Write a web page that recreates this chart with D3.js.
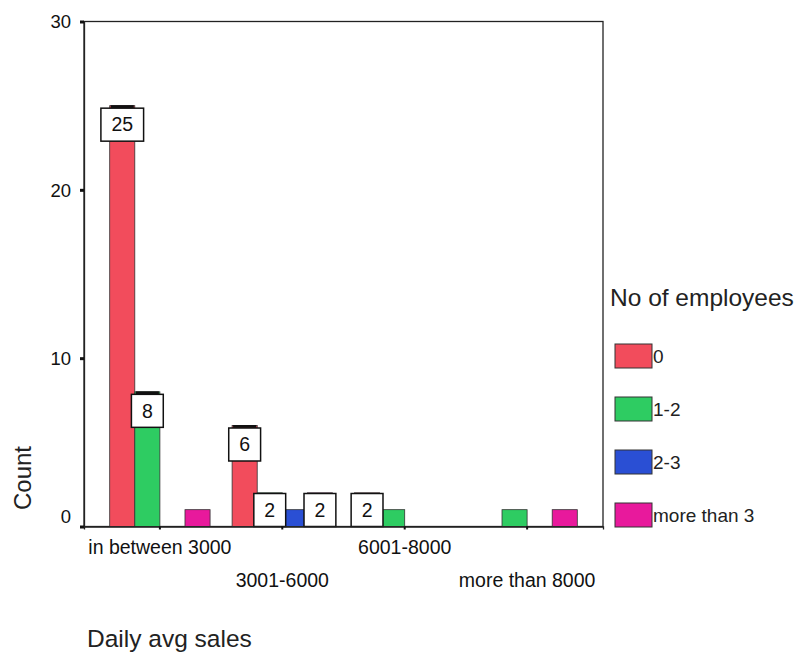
<!DOCTYPE html>
<html>
<head>
<meta charset="utf-8">
<script src="https://cdn.jsdelivr.net/npm/d3@7"></script>
<style>
  html, body { margin: 0; padding: 0; background: #fff; }
  svg { display: block; font-family: "Liberation Sans", Arial, sans-serif; }
</style>
</head>
<body>
<svg id="chart" width="799" height="654"></svg>
<script>
// Daily average sales by number of employees (counts of shops)
const categories = ["in between 3000", "3001-6000", "6001-8000", "more than 8000"];
const seriesNames = ["0", "1-2", "2-3", "more than 3"];
const countsNone = [25, 6, 2, 0];
const countsOneTwo = [8, 2, 1, 1];
const countsTwoThree = [0, 1, 0, 0];
const countsMoreThanThree = [1, 2, 0, 1];
const yTickValues = [0, 10, 20, 30];
const seriesColors = ["#f24c5c", "#2ecc62", "#2a4fd4", "#e8199c"];

const seriesValues = [countsNone, countsOneTwo, countsTwoThree, countsMoreThanThree];
const FONT = "Liberation Sans, Arial, sans-serif";
const INK = "#111";

const svg = d3.select("#chart");
const plot = { left: 84, right: 603, top: 21.5, bottom: 526.5 };

const x = d3.scaleBand()
  .domain(categories)
  .range([plot.left, plot.right])
  .paddingInner(0.18)
  .paddingOuter(0.21);

const xInner = d3.scaleBand()
  .domain(seriesNames)
  .range([0, x.bandwidth()]);

const y = d3.scaleLinear()
  .domain([0, 30])
  .range([plot.bottom, plot.top]);

// One record per bar
const bars = [];
categories.forEach((cat, ci) => {
  seriesNames.forEach((s, si) => {
    bars.push({ cat, series: s, si, value: seriesValues[si][ci] });
  });
});

// Plot frame
svg.append("rect")
  .attr("x", plot.left).attr("y", plot.top)
  .attr("width", plot.right - plot.left).attr("height", plot.bottom - plot.top)
  .attr("fill", "none").attr("stroke", "#222").attr("stroke-width", 1.3);

// Bars
svg.append("g").selectAll("rect")
  .data(bars.filter(d => d.value > 0))
  .join("rect")
  .attr("x", d => x(d.cat) + xInner(d.series))
  .attr("y", d => y(d.value))
  .attr("width", xInner.bandwidth())
  .attr("height", d => y(0) - y(d.value))
  .attr("fill", d => seriesColors[d.si])
  .attr("stroke", "#333")
  .attr("stroke-width", 0.8);

// Value boxes for bars tall enough to carry a label
const boxH = 33;
const labelled = bars.filter(d => d.value > 1);
const boxG = svg.append("g");
labelled.forEach(d => {
  const cx = x(d.cat) + xInner(d.series) + xInner.bandwidth() / 2;
  const barTop = y(d.value);
  let top = barTop + 2.5;
  const reachesBase = top + boxH > plot.bottom;
  if (reachesBase) top = plot.bottom - boxH;
  if (!reachesBase) {
    // dark cap on the bar top, above the box
    boxG.append("rect")
      .attr("x", x(d.cat) + xInner(d.series) + 1)
      .attr("y", barTop - 0.5)
      .attr("width", xInner.bandwidth() - 2)
      .attr("height", 2.8)
      .attr("fill", INK);
  }
  const t = boxG.append("text")
    .attr("x", cx)
    .attr("y", top + boxH / 2)
    .attr("dy", "0.35em")
    .attr("text-anchor", "middle")
    .attr("font-size", 19.5)
    .attr("fill", INK)
    .text(d.value);
  const w = t.node().getComputedTextLength() + 21;
  boxG.insert("rect", () => t.node())
    .attr("x", cx - w / 2)
    .attr("y", top)
    .attr("width", w)
    .attr("height", boxH)
    .attr("fill", "#fff")
    .attr("stroke", INK)
    .attr("stroke-width", 1.5);
});

// Y axis
const yAxis = svg.append("g")
  .attr("transform", `translate(${plot.left},0)`)
  .call(d3.axisLeft(y).tickValues(yTickValues).tickSize(4).tickPadding(9).tickFormat(d3.format("d")));
yAxis.select(".domain").attr("stroke", "#222").attr("stroke-width", 1.3);
yAxis.selectAll(".tick line").attr("stroke", INK).attr("stroke-width", 3);
yAxis.selectAll(".tick text")
  .attr("font-size", 18.5)
  .attr("font-family", FONT)
  .attr("fill", INK)
  .attr("dy", d => d === 0 ? "-0.2em" : "0.35em");

// X axis with staggered category labels
const xAxis = svg.append("g")
  .attr("transform", `translate(0,${plot.bottom})`)
  .call(d3.axisBottom(x).tickSize(3).tickPadding(0));
xAxis.select(".domain").attr("stroke", "#222").attr("stroke-width", 1.3);
xAxis.selectAll(".tick line").attr("stroke", INK).attr("stroke-width", 2);
xAxis.selectAll(".tick text")
  .attr("font-size", 19.5)
  .attr("font-family", FONT)
  .attr("fill", INK)
  .attr("dy", null)
  .attr("y", (d, i) => i % 2 === 0 ? 27 : 60);

// Axis titles
svg.append("text")
  .attr("transform", "translate(31,478) rotate(-90)")
  .attr("text-anchor", "middle")
  .attr("font-size", 24)
  .attr("fill", "#222")
  .text("Count");

svg.append("text")
  .attr("x", 87).attr("y", 647)
  .attr("font-size", 24.5)
  .attr("fill", "#222")
  .text("Daily avg sales");

// Legend
const legend = svg.append("g");
legend.append("text")
  .attr("x", 610).attr("y", 306)
  .attr("font-size", 24.5)
  .attr("fill", "#222")
  .text("No of employees");

const legendY = d3.scalePoint().domain(seriesNames).range([344, 503]);
const items = legend.selectAll("g.item")
  .data(seriesNames)
  .join("g").attr("class", "item")
  .attr("transform", d => `translate(615,${legendY(d)})`);
items.append("rect")
  .attr("width", 37).attr("height", 24)
  .attr("fill", (d, i) => seriesColors[i])
  .attr("stroke", "#333").attr("stroke-width", 1);
items.append("text")
  .attr("x", 38).attr("y", 12).attr("dy", "0.35em")
  .attr("font-size", 19)
  .attr("fill", "#222")
  .text(d => d);
</script>
</body>
</html>
